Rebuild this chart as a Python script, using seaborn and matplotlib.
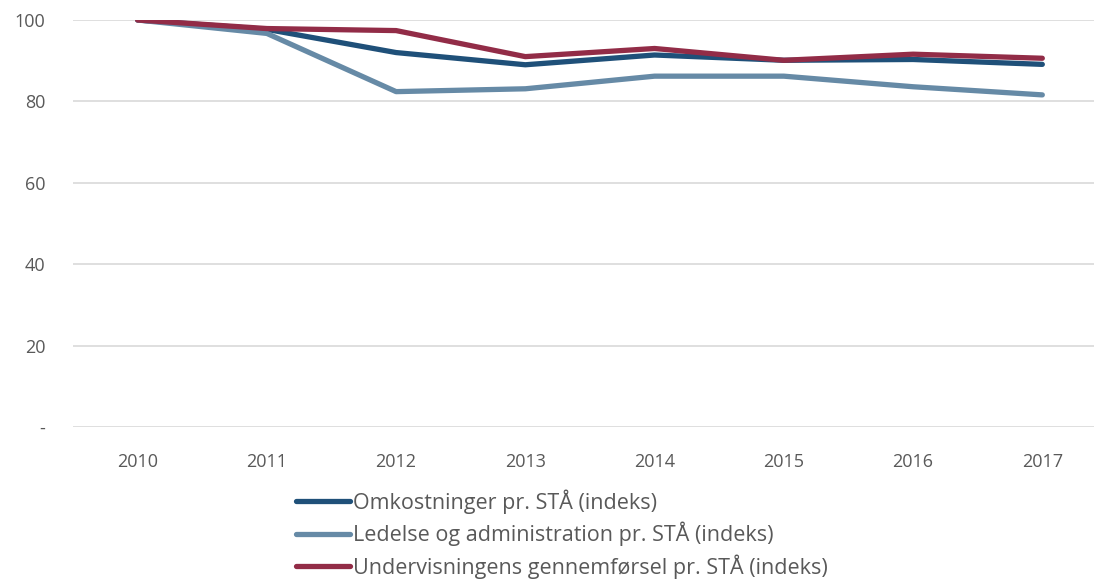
import matplotlib
matplotlib.use("Agg")
import matplotlib.pyplot as plt
import seaborn as sns
import pandas as pd

years = ["2010", "2011", "2012", "2013", "2014", "2015", "2016", "2017"]
omkostninger = [100, 97.7, 92.0, 89.0, 91.4, 90.1, 90.3, 89.1]
ledelse = [100, 96.7, 82.4, 83.1, 86.2, 86.2, 83.6, 81.6]
undervisning = [100, 97.9, 97.4, 91.0, 93.0, 90.1, 91.6, 90.6]

labels = ["Omkostninger pr. STÅ (indeks)",
          "Ledelse og administration pr. STÅ (indeks)",
          "Undervisningens gennemførsel pr. STÅ (indeks)"]
colors = ["#1f5079", "#668aa6", "#922c47"]

df = pd.concat([
    pd.DataFrame({"år": years, "indeks": vals, "serie": lab})
    for vals, lab in zip([omkostninger, ledelse, undervisning], labels)
])

sns.set_theme(style="white")
plt.rcParams["font.family"] = ["Open Sans", "DejaVu Sans"]

fig = plt.figure(figsize=(10.94, 5.83), dpi=100)
ax = fig.add_axes([73 / 1094, 1 - 427 / 583, 1021 / 1094, 407 / 583])

sns.lineplot(data=df, x="år", y="indeks", hue="serie", palette=colors,
             linewidth=3.8, sort=False, ax=ax, legend=True,
             solid_capstyle="round")

ax.set_ylim(0, 100)
ax.set_xlim(-0.5, 7.4)
ax.set_yticks([0, 20, 40, 60, 80, 100])
ax.set_yticklabels(["-", "20", "40", "60", "80", "100"])
ax.yaxis.grid(True, color="#d9d9d9", linewidth=1.2)
ax.set_axisbelow(True)
for s in ax.spines.values():
    s.set_visible(False)
ax.tick_params(axis="both", length=0, labelsize=13, labelcolor="#595959")
ax.tick_params(axis="y", pad=20)
ax.tick_params(axis="x", pad=19)
ax.set_xlabel("")
ax.set_ylabel("")

handles, labs = ax.get_legend_handles_labels()
ax.legend(handles, labs, loc="upper left", bbox_to_anchor=(296 / 1094, 1 - 489 / 583),
          bbox_transform=fig.transFigure, frameon=False, fontsize=15.5,
          handlelength=2.5, handletextpad=0.15, labelspacing=0.38,
          labelcolor="#595959", borderaxespad=0, borderpad=0)

fig.savefig("out.png", dpi=100)
